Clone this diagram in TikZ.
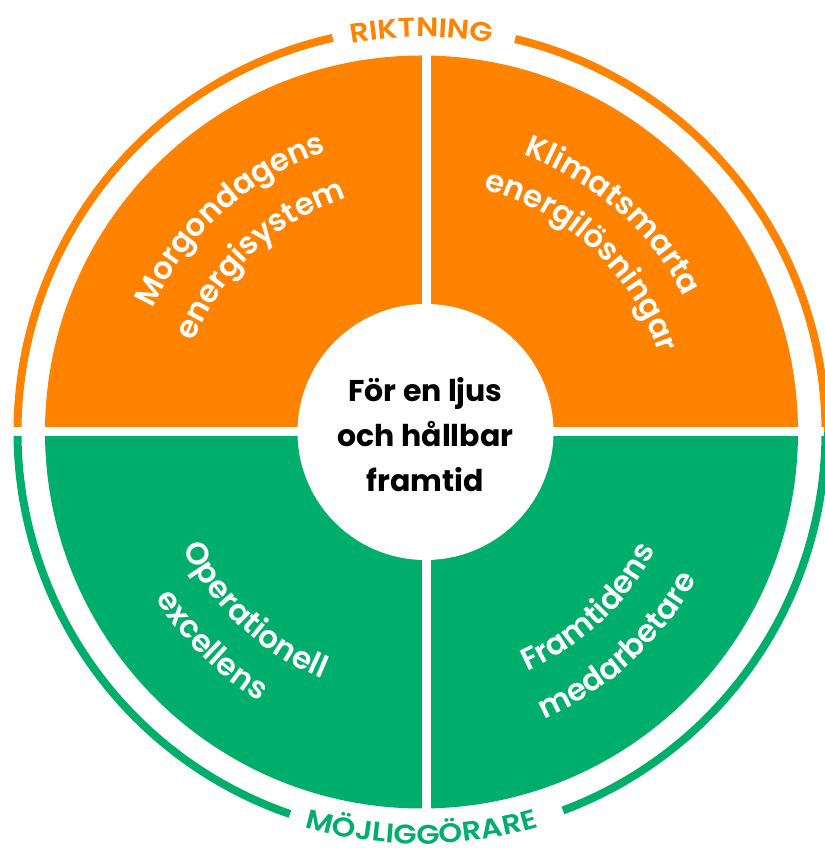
\documentclass[tikz,border=0pt]{standalone}
\usepackage{fontspec}
\setmainfont{Poppins}[BoldFont={Poppins SemiBold}]
\newfontfamily\ringfont{Poppins}[BoldFont={Poppins SemiBold},FakeStretch=1.12]
\newfontfamily\hubfont{Poppins}
\usetikzlibrary{decorations.text}

\definecolor{vfOrange}{RGB}{255,130,0}
\definecolor{vfGreen}{RGB}{0,174,108}

\newcommand\quadfont{\bfseries\fontsize{31}{31}\selectfont}
\newcommand\ringlabelfont{\ringfont\bfseries\fontsize{27}{27}\selectfont}

\tikzset{
  ring/.style={line width=8pt, line cap=butt},
  arclabel/.style={decorate, decoration={text along path, text align=center, text={#1}}},
  quadlabel/.style={arclabel={|\quadfont|#1}, decoration={text color=white}},
  hub/.style={circle, fill=white, minimum size=256pt, inner sep=0pt},
}

\begin{document}
\begin{tikzpicture}[x=1pt,y=1pt]
\useasboundingbox (0,0) rectangle (824,853);
\coordinate (c) at (421.5,421);
% the two halves of the disk
\fill[vfOrange] (c) ++(0:376.5) arc[start angle=0, end angle=180, radius=376.5] -- cycle;
\fill[vfGreen] (c) ++(180:376.5) arc[start angle=180, end angle=360, radius=376.5] -- cycle;
% outer ring
\draw[ring, vfOrange] (c) ++(180:404) arc[start angle=180, end angle=102.7, radius=404];
\draw[ring, vfOrange] (c) ++(76.6:404) arc[start angle=76.6, end angle=0, radius=404];
\draw[ring, vfGreen] (c) ++(180:404) arc[start angle=180, end angle=251, radius=404];
\draw[ring, vfGreen] (c) ++(290.5:404) arc[start angle=290.5, end angle=360, radius=404];
% white cuts between the quarters
\fill[white] (0,416.5) rectangle (824,425.5);
\fill[white] (422,40) rectangle (431,802);
% centre
\node[hub] (hubdisk) at (425.5,421) {};
\node[align=center, font=\hubfont\bfseries\fontsize{30}{45}\selectfont] (core) at (425.5,418)
  {För en ljus\\och hållbar\\framtid};
% ring labels
\path[arclabel={|\ringlabelfont|RIKTNING}, decoration={text color=vfOrange}]
  (c) ++(120:395) arc[start angle=120, end angle=60, radius=395];
\path[arclabel={|\ringlabelfont|MÖJLIGGÖRARE}, decoration={text color=vfGreen}]
  (c) ++(240:412) arc[start angle=240, end angle=300, radius=412];
% quarter labels
\path[quadlabel=Morgondagens] (c) ++(172:296) arc[start angle=172, end angle=92, radius=296];
\path[quadlabel=energisystem] (c) ++(173:245) arc[start angle=173, end angle=93, radius=245];
\path[quadlabel=Klimatsmarta] (c) ++(88.5:295) arc[start angle=88.5, end angle=8.5, radius=295];
\path[quadlabel=energilösningar] (c) ++(87:250) arc[start angle=87, end angle=7, radius=250];
\path[quadlabel=Operationell] (c) ++(187:266) arc[start angle=187, end angle=267, radius=266];
\path[quadlabel=excellens] (c) ++(185.5:314) arc[start angle=185.5, end angle=265.5, radius=314];
\path[quadlabel=Framtidens] (c) ++(273.5:262) arc[start angle=273.5, end angle=353.5, radius=262];
\path[quadlabel=medarbetare] (c) ++(272.5:312) arc[start angle=272.5, end angle=352.5, radius=312];
\end{tikzpicture}
\end{document}
